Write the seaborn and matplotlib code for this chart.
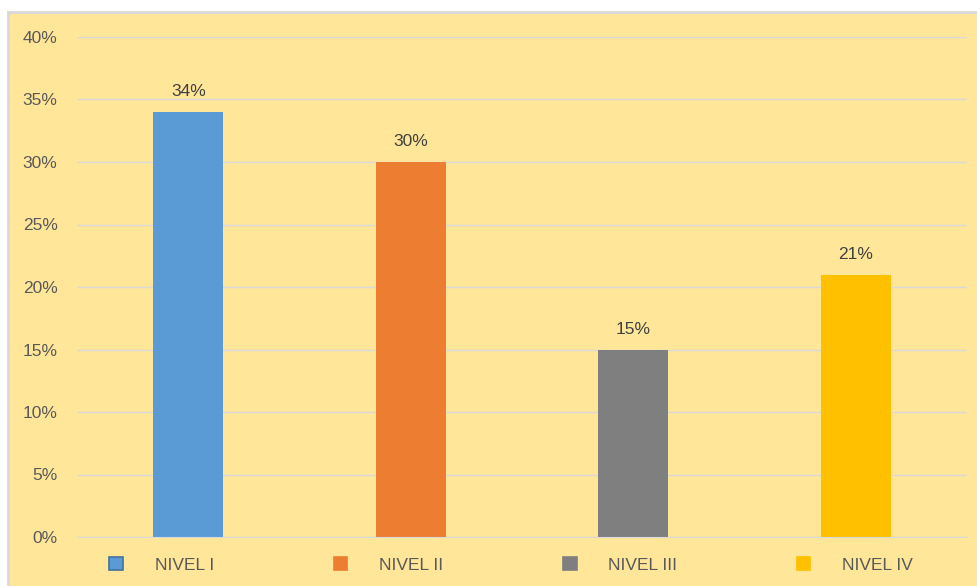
import matplotlib
matplotlib.use("Agg")
import matplotlib.pyplot as plt
import seaborn as sns
import pandas as pd
from matplotlib.patches import Patch, Rectangle
from matplotlib.ticker import PercentFormatter

# datos
niveles = ["NIVEL I", "NIVEL II", "NIVEL III", "NIVEL IV"]
porcentajes = [0.34, 0.30, 0.15, 0.21]
colores = ["#5B9BD5", "#ED7D31", "#7F7F7F", "#FFC000"]
bordes = ["#41719C", "#ED7D31", "#7F7F7F", "#FFC000"]

df = pd.DataFrame({"nivel": niveles, "pct": porcentajes})

sns.set_style("white")
plt.rcParams["font.family"] = ["Liberation Sans", "DejaVu Sans"]

fondo = "#FFE699"
gris_txt = "#595959"

fig = plt.figure(figsize=(9.77, 5.86), dpi=100, facecolor="white")
# marco amarillo con borde gris (detras de los ejes)
fig.patches.append(Rectangle((8 / 977, -0.01), 1, (586 - 12) / 586 + 0.01, transform=fig.transFigure,
                             facecolor=fondo, edgecolor="#D9D9D9", linewidth=2, zorder=-10))

ax = fig.add_axes([77 / 977, 49 / 586, 890 / 977, 500 / 586])
ax.set_facecolor("none")
ax.set_zorder(5)

sns.barplot(data=df, x="nivel", y="pct", hue="nivel", palette=colores,
            width=0.315, legend=False, ax=ax, saturation=1, linewidth=0)

for cont in ax.containers:
    ax.bar_label(cont, labels=[f"{v * 100:.0f}%" for v in cont.datavalues],
                 padding=9, fontsize=12.5, color="#404040")

ax.set_ylim(0, 0.40)
ax.set_yticks([i * 0.05 for i in range(9)])
ax.yaxis.set_major_formatter(PercentFormatter(1.0, decimals=0))
ax.tick_params(axis="y", labelsize=12.5, labelcolor=gris_txt, length=0, pad=14)
ax.set_xticks([])
ax.set_xlabel("")
ax.set_ylabel("")
ax.grid(axis="y", color="#D9D9D9", linewidth=1)
ax.set_axisbelow(True)
for s in ["top", "right", "left"]:
    ax.spines[s].set_visible(False)
ax.spines["bottom"].set_color("#D9D9D9")

handles = [Patch(facecolor=c, edgecolor=b, linewidth=1.2) for c, b in zip(colores, bordes)]
leg = fig.legend(handles, niveles, loc="center", bbox_to_anchor=(511 / 977, 1 - 565 / 586),
                 ncol=4, frameon=False, fontsize=12.5, labelcolor=gris_txt,
                 handlelength=0.8, handleheight=0.8, handletextpad=1.8, columnspacing=6.9)
leg.set_zorder(6)

fig.savefig("out.png", dpi=100, facecolor="white")
